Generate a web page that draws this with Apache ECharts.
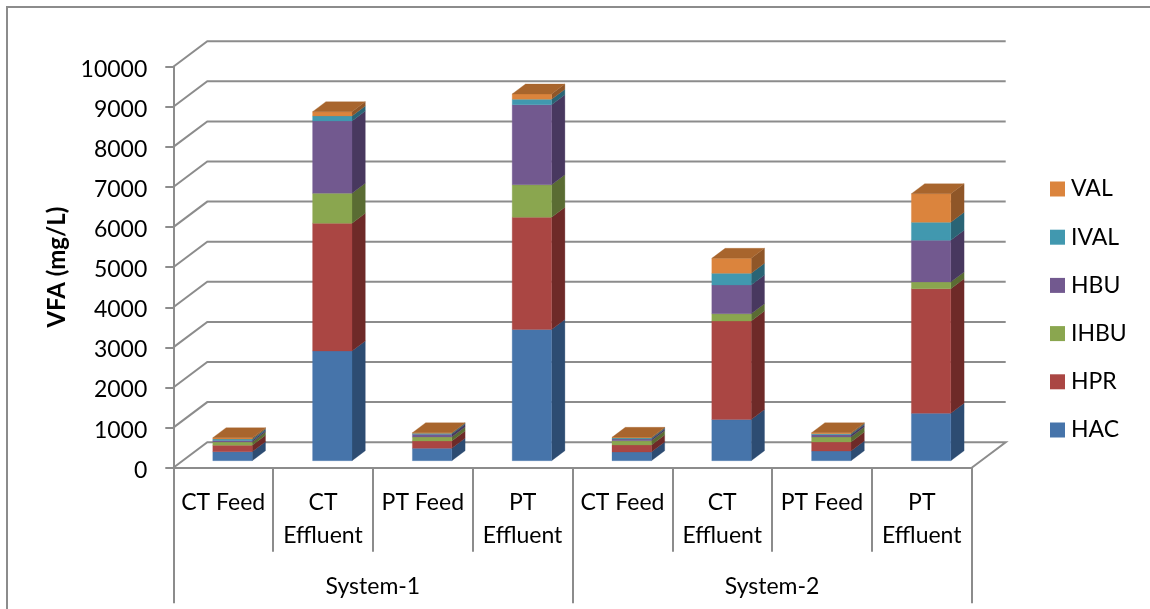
<!DOCTYPE html>
<html><head><meta charset="utf-8">
<style>html,body{margin:0;padding:0;background:#fff}#c{width:1150px;height:609px}</style>
<script src="https://cdn.jsdelivr.net/npm/echarts@6/dist/echarts.min.js"></script>
</head><body><div id="c"></div>
<script>
const categories = ['CT Feed','CT\nEffluent','PT Feed','PT\nEffluent','CT Feed','CT\nEffluent','PT Feed','PT\nEffluent'];
const systems = ['System-1','System-2'];
const yTicks = [0,1000,2000,3000,4000,5000,6000,7000,8000,9000,10000];
const HAC  = [224,2736,309,3272,216,1027,241,1182];
const HPR  = [160,3185,182,2798,175,2456,224,3107];
const IHBU = [80,748,100,813,108,182,125,167];
const HBU  = [40,1803,67,1995,42,716,58,1040];
const IVAL = [35,125,25,135,25,292,25,449];
const VAL  = [35,107,15,132,17,374,25,713];
const seriesNames = ['HAC','HPR','IHBU','HBU','IVAL','VAL'];
const seriesValues = [HAC,HPR,IHBU,HBU,IVAL,VAL];
const frontColors = ['#4674AA','#AA4643','#8AA64F','#72598F','#4198AF','#DB843D'];
const sideColors  = ['#2D4C72','#6E2A28','#5A6C33','#48385F','#2A6475','#8F5628'];
const topColor = '#A8652D';
const lineColor = '#8C8C8C';
const fontFamily = 'Lato, Carlito, sans-serif';

// Excel-style oblique projection, in pixels
const wallDX = 34, wallDY = 25.5;     // depth of floor
const barDX = 9.3, barDY = 7;         // bars sit this far into the floor
const sideDX = 13.3, sideDY = 10;     // depth of a bar
const barWidth = 39.4;

function poly(points, fill){
  return {type:'polygon', shape:{points}, style:{fill, stroke:fill, lineWidth:0.3}};
}
const running = categories.map(()=>0);
const stackSeries = seriesNames.map((name,si)=>{
  const data = seriesValues[si].map((v,i)=>{
    const item = [i, running[i], running[i]+v];
    running[i]+=v;
    return item;
  });
  return {
    name, type:'custom', coordinateSystem:'cartesian2d', xAxisIndex:0, yAxisIndex:0,
    itemStyle:{color:frontColors[si]}, silent:true, animation:false, clip:false, z:5,
    encode:{x:0,y:[1,2]},
    data,
    renderItem(params, api){
      const a = api.coord([api.value(0), api.value(1)]);
      const b = api.coord([api.value(0), api.value(2)]);
      const x0 = a[0]+barDX-barWidth/2, x1 = x0+barWidth;
      const y0 = a[1]-barDY, y1 = b[1]-barDY;
      const children = [
        poly([[x1,y0],[x1+sideDX,y0-sideDY],[x1+sideDX,y1-sideDY],[x1,y1]], sideColors[si]),
        poly([[x0,y0],[x1,y0],[x1,y1],[x0,y1]], frontColors[si])
      ];
      if(si===seriesNames.length-1){
        children.push(poly([[x0,y1],[x1,y1],[x1+sideDX,y1-sideDY],[x0+sideDX,y1-sideDY]], topColor));
      }
      return {type:'group', children};
    }
  };
});
const wallSeries = {
  name:'walls', type:'custom', coordinateSystem:'cartesian2d', xAxisIndex:0, yAxisIndex:0,
  silent:true, animation:false, clip:false, z:1,
  encode:{x:0,y:1},
  data: yTicks.map(v=>[0,v]),
  renderItem(params, api){
    const y = api.coord([0, api.value(1)])[1];
    const cs = params.coordSys, l = cs.x, r = cs.x+cs.width;
    const pts = [[l,y],[l+wallDX,y-wallDY],[r+wallDX,y-wallDY]];
    if(api.value(1)===0) pts.push([r,y]);
    return {type:'polyline', shape:{points:pts}, style:{fill:null, stroke:lineColor, lineWidth:2}};
  }
};
const labelStyle = {color:'#000', fontFamily, fontSize:23};
const option = {
  backgroundColor:'#fff',
  animation:false,
  graphic:[{type:'rect', shape:{x:7,y:7,width:1160,height:700}, style:{fill:null,stroke:lineColor,lineWidth:2}, silent:true, z:0}],
  grid:{left:173.3, width:798.4, top:66.7, height:401},
  legend:{
    orient:'vertical', left:1050, top:177.5, padding:0, itemWidth:15, itemHeight:15, itemGap:25.2,
    icon:'rect', selectedMode:false,
    data:seriesNames.slice().reverse(),
    textStyle:{color:'#000', fontFamily, fontSize:23, padding:[0,0,0,1]}
  },
  xAxis:[
    {type:'category', data:categories, position:'bottom',
     axisLine:{show:true,lineStyle:{color:lineColor,width:2}},
     axisTick:{show:true,length:84,alignWithLabel:false,lineStyle:{color:lineColor,width:2}},
     axisLabel:{...labelStyle, interval:0, margin:18, lineHeight:33.5, verticalAlign:'top', hideOverlap:false}},
    {type:'category', data:systems, position:'bottom',
     axisLine:{show:false},
     axisTick:{show:true,length:135.5,lineStyle:{color:lineColor,width:2}},
     axisLabel:{...labelStyle, interval:0, margin:119, verticalAlign:'middle'}}
  ],
  yAxis:{type:'value', min:0, max:10000, interval:1000,
    name:'VFA (mg/L)', nameLocation:'middle', nameGap:97, nameRotate:90,
    nameTextStyle:{color:'#000', fontFamily, fontSize:24, fontWeight:'bold', padding:[0,0,3,0]},
    axisLine:{show:true,lineStyle:{color:lineColor,width:2}},
    axisTick:{show:true,length:8,lineStyle:{color:lineColor,width:2}},
    axisLabel:{...labelStyle, margin:26, formatter:v=>'{t|'+v+'}',
      rich:{t:{color:'#000', fontFamily, fontSize:23, padding:[5,0,0,0]}}},
    splitLine:{show:false}},
  series:[wallSeries, ...stackSeries]
};
const chart = echarts.init(document.getElementById('c'), null, {renderer:'canvas'});
chart.setOption(option);
</script></body></html>
